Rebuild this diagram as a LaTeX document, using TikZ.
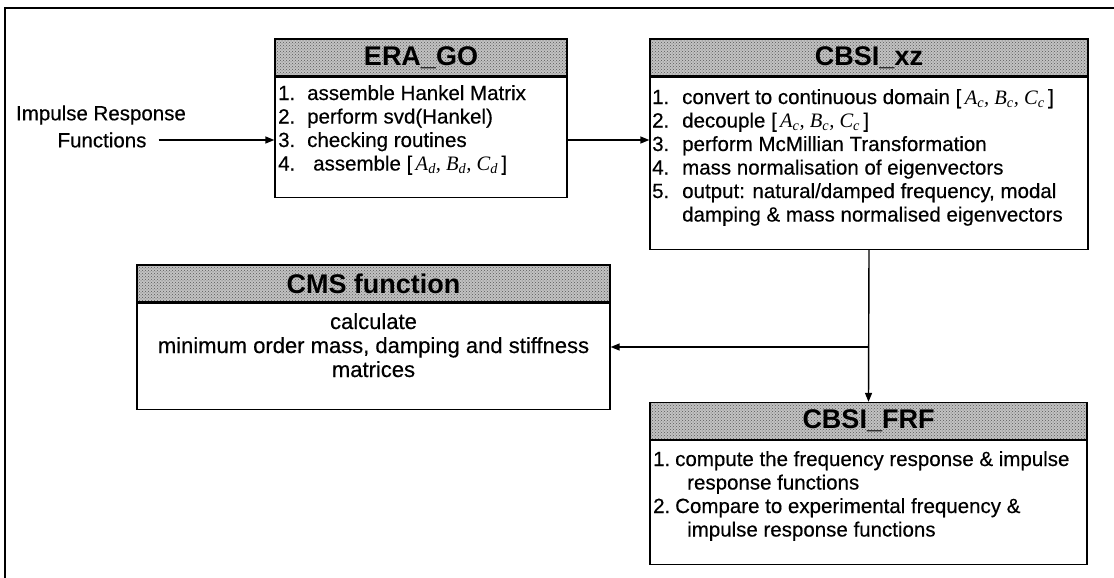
\documentclass[tikz,border=0pt]{standalone}
\usepackage{fontspec}
\setmainfont{Liberation Sans}
\newfontfamily\tms{Liberation Serif}
\usetikzlibrary{arrows.meta,patterns}
\newcommand\mabc[1]{[\,{\tms\itshape A\textsubscript{#1}, B\textsubscript{#1}, C\textsubscript{#1}}\,]}
\begin{document}
\begin{tikzpicture}[x=1pt,y=-1pt,
  hdr/.style={draw, line width=1.3pt, preaction={fill=black!24}, pattern=crosshatch dots, pattern color=black!65,
    font=\fontsize{27}{29}\selectfont\bfseries, inner sep=0pt},
  bodybox/.style={draw, line width=1.3pt, fill=white, inner sep=0pt},
  body/.style={inner sep=0pt, font=\fontsize{20.5}{23.5}\selectfont\addfontfeature{FakeBold=0.4}},
  cmsbody/.style={inner sep=0pt, font=\fontsize{22}{24}\selectfont\addfontfeature{FakeBold=0.4}},
  lbl/.style={inner sep=0pt, font=\fontsize{20.5}{23.5}\selectfont\addfontfeature{FakeBold=0.4}},
  arr/.style={line width=1.4pt, -{Triangle[length=9pt,width=7pt]}}
]
\useasboundingbox (0,0) rectangle (1114,578);
\draw[line width=1.5pt] (1114,8) -- (5,8) -- (5,578);

% ERA_GO
\node[hdr, minimum width=292pt, minimum height=37pt] (eraH) at (421,57.5) {ERA\_GO};
\node[bodybox, minimum width=292pt, minimum height=120pt, anchor=north] (eraB) at (eraH.south) {};
\node[body, anchor=base west] (eraT) at (278,100) {\begin{tabular}[t]{@{}p{29pt}@{}l@{}}
1. & assemble Hankel Matrix\\
2. & perform svd(Hankel)\\
3. & checking routines\\
4. & \hspace{6pt}assemble \mabc{d}
\end{tabular}};

% CBSI_xz
\node[hdr, minimum width=438pt, minimum height=37pt] (cbH) at (869,57.5) {CBSI\_xz};
\node[bodybox, minimum width=438pt, minimum height=172pt, anchor=north] (cbB) at (cbH.south) {};
\node[body, anchor=base west] (cbT) at (652,104) {\begin{tabular}[t]{@{}p{30pt}@{}l@{}}
1. & convert to continuous domain \mabc{c}\\
2. & decouple \mabc{c}\\
3. & perform McMillian Transformation\\
4. & mass normalisation of eigenvectors\\
5. & output: natural/damped frequency, modal\\
   & damping \& mass normalised eigenvectors
\end{tabular}};

% CMS function
\node[hdr, minimum width=473pt, minimum height=37pt] (cmsH) at (373.5,283.5) {CMS function};
\node[bodybox, minimum width=473pt, minimum height=106pt, anchor=north] (cmsB) at (cmsH.south) {};
\node[cmsbody, anchor=base] (cmsT) at (373.5,329) {\begin{tabular}[t]{@{}c@{}}
calculate\\minimum order mass, damping and stiffness\\matrices
\end{tabular}};

% CBSI_FRF
\node[hdr, minimum width=437pt, minimum height=37pt] (frfH) at (868.5,421) {CBSI\_FRF};
\node[bodybox, minimum width=437pt, minimum height=124pt, anchor=north] (frfB) at (frfH.south) {};
\node[body, anchor=base west] (frfT) at (653,466) {\begin{tabular}[t]{@{}p{22pt}@{}l@{}}
1. & compute the frequency response \& impulse\\
   & \hspace{12pt}response functions\\
2. & Compare to experimental frequency \&\\
   & \hspace{12pt}impulse response functions
\end{tabular}};

% input label
\node[lbl] (irfA) at (101,115) {Impulse Response};
\node[lbl] (irfB) at (102,140) {Functions};

% connectors
\draw[arr] ([xshift=12pt]irfB.east) -- (irfB.east -| eraB.west);
\draw[arr] (eraB.east |- irfB.east) -- (cbB.west |- irfB.east);
\draw[arr] (cbB.south) -- (frfH.north);
\coordinate (br) at (cbB.south |- 0,347);
\draw[arr] (br) -- (cmsB.east |- br);
\end{tikzpicture}
\end{document}
